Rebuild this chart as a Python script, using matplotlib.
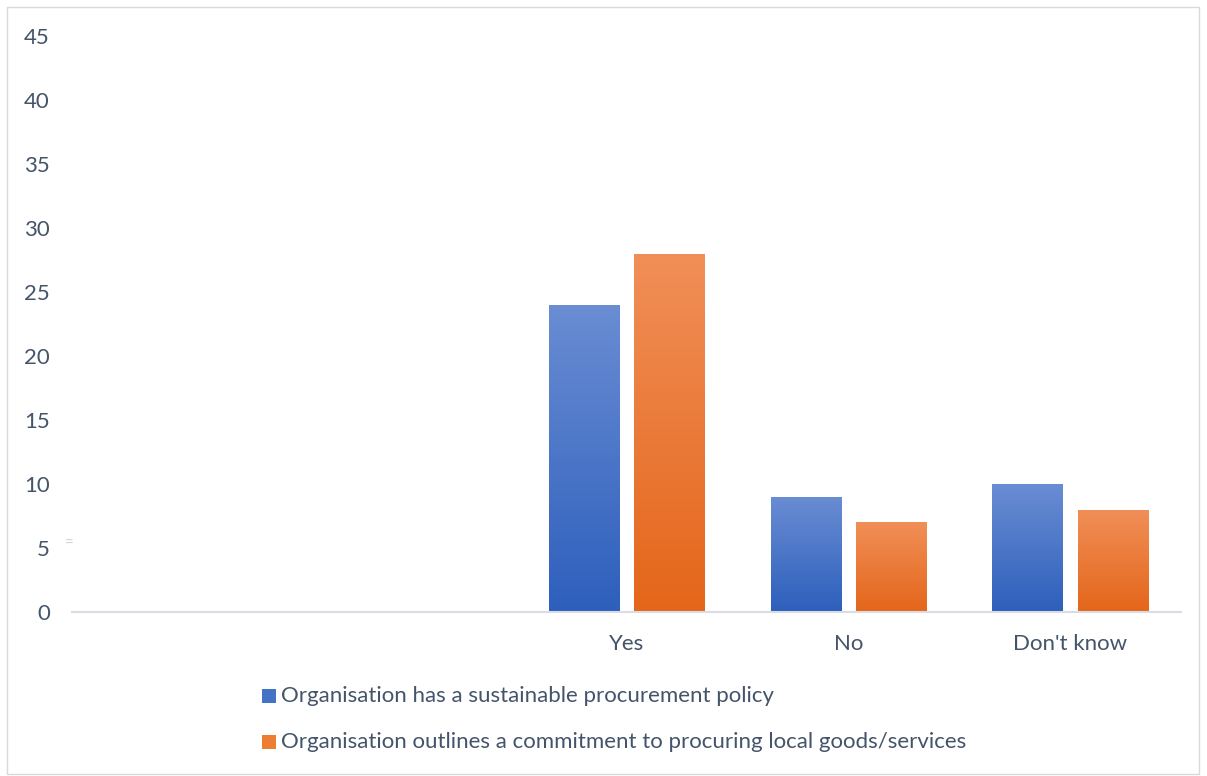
import numpy as np
import matplotlib
matplotlib.use("Agg")
import matplotlib.pyplot as plt
from matplotlib.colors import LinearSegmentedColormap
from matplotlib.patches import Rectangle

categories = ["", "", "Yes", "No", "Don't know"]
policy = [0, 0, 24, 9, 10]
local_goods = [0, 0, 28, 7, 8]
series_names = [
    "Organisation has a sustainable procurement policy",
    "Organisation outlines a commitment to procuring local goods/services",
]

text_color = "#44546a"
plt.rcParams["font.family"] = ["Lato", "DejaVu Sans"]

fig = plt.figure(figsize=(12.07, 7.76), dpi=100)
ax = fig.add_axes([72 / 1207, 1 - 612 / 776, (1181 - 72) / 1207, (612 - 36) / 776])

blue_cmap = LinearSegmentedColormap.from_list("b", ["#2d5fbc", "#6a8dd3"])
orange_cmap = LinearSegmentedColormap.from_list("o", ["#e4661a", "#f18f58"])

x = np.arange(len(categories))
width = 0.316
gap = 0.068
offsets = [-(width + gap) / 2, (width + gap) / 2]

grad = np.linspace(0, 1, 256).reshape(-1, 1)
for vals, off, cmap in [(policy, offsets[0], blue_cmap), (local_goods, offsets[1], orange_cmap)]:
    bars = ax.bar(x + off, vals, width, color="none", edgecolor="none")
    for b in bars:
        h = b.get_height()
        if h <= 0:
            continue
        x0 = b.get_x()
        im = ax.imshow(grad, cmap=cmap, origin="lower", aspect="auto",
                       extent=(x0, x0 + b.get_width(), 0, h), zorder=2)
        im.set_clip_path(b)

ax.set_xlim(-0.5, len(categories) - 0.5)
ax.set_ylim(0, 45)
ax.set_yticks(range(0, 46, 5))
ax.set_xticks(x)
ax.set_xticklabels(categories)
ax.tick_params(axis="both", length=0, labelsize=16, labelcolor=text_color)
ax.tick_params(axis="y", pad=16)
ax.tick_params(axis="x", pad=16)
for side in ["top", "right", "left"]:
    ax.spines[side].set_visible(False)
ax.spines["bottom"].set_color("#d9dde3")
ax.spines["bottom"].set_linewidth(1.5)

# faint mark beside the 5 tick
fig.text(69 / 1207, 1 - 544 / 776, "=", color="#d0d5dc", fontsize=11,
         ha="center", va="center")

# legend rows
legend_colors = ["#4472c4", "#ed7d31"]
rows_y = [696, 742]
for name, col, ry in zip(series_names, legend_colors, rows_y):
    fig.patches.append(Rectangle((262 / 1207, 1 - (ry + 7) / 776), 14 / 1207, 14 / 776,
                                 transform=fig.transFigure, facecolor=col,
                                 edgecolor="none"))
    fig.text(281 / 1207, 1 - ry / 776, name, color=text_color, fontsize=16,
             ha="left", va="center")

# outer border
fig.patches.append(Rectangle((7 / 1207, 2 / 776), 1192 / 1207, 767 / 776,
                             transform=fig.transFigure, facecolor="none",
                             edgecolor="#d9d9d9", linewidth=1))

fig.savefig("out.png", dpi=100)
